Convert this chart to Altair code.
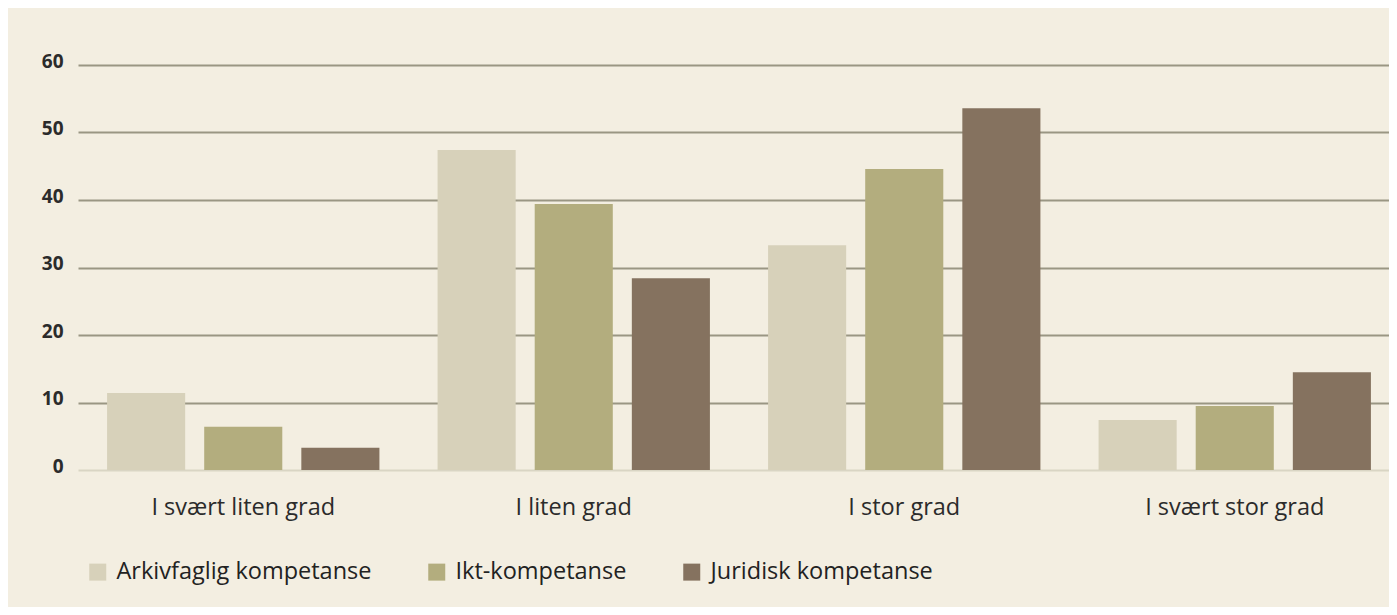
import altair as alt
import pandas as pd

categories = ["I svært liten grad", "I liten grad", "I stor grad", "I svært stor grad"]
series = ["Arkivfaglig kompetanse", "Ikt-kompetanse", "Juridisk kompetanse"]
arkiv = [11.4, 47.4, 33.3, 7.4]
ikt = [6.4, 39.4, 44.6, 9.5]
juridisk = [3.3, 28.4, 53.6, 14.5]
colors = ["#D7D1BA", "#B3AD7E", "#85725F"]
y_ticks = [0, 10, 20, 30, 40, 50, 60]

rows = []
for s, vals in zip(series, [arkiv, ikt, juridisk]):
    for c, v in zip(categories, vals):
        rows.append({"kategori": c, "serie": s, "verdi": v})
df = pd.DataFrame(rows)

FONT = "Open Sans"

chart = alt.Chart(df).mark_bar().encode(
    x=alt.X("kategori:N", sort=categories, title=None,
            scale=alt.Scale(paddingInner=0.176, paddingOuter=0.088, range=[0, 1322]),
            axis=alt.Axis(labelAngle=0, labelFontSize=23.5, labelColor="#2b2b2b",
                          labelPadding=25, domain=False, ticks=False, labelFont=FONT,
                          labelLimit=0)),
    xOffset=alt.XOffset("serie:N", sort=series,
                        scale=alt.Scale(paddingInner=0.196, paddingOuter=0)),
    y=alt.Y("verdi:Q", title=None, scale=alt.Scale(domain=[0, 60], nice=False),
            axis=alt.Axis(values=y_ticks, labelFontSize=19, labelFontWeight="bold",
                          labelColor="#2b2b2b", labelFont=FONT, labelPadding=15,
                          labelOffset=-4, domain=False, ticks=False,
                          gridColor=alt.condition("datum.value === 0", alt.value("#D9D5C4"), alt.value("#9A9683")),
                          gridWidth=2)),
    color=alt.Color("serie:N", sort=series,
                    scale=alt.Scale(domain=series, range=colors),
                    legend=alt.Legend(title=None, orient="none", legendX=8, legendY=495,
                                      direction="horizontal", symbolType="square",
                                      symbolSize=289, symbolStrokeWidth=0,
                                      labelFontSize=23.5, labelFont=FONT, labelColor="#222222",
                                      labelOffset=7, columnPadding=53, labelLimit=0)),
).properties(
    width=1311, height=405, background="#F3EEE1",
    padding={"left": 70, "top": 57, "right": 0, "bottom": 137},
    autosize=alt.AutoSizeParams(type="none"),
).configure_view(stroke=None)

chart.save("out.html", embed_options={"renderer": "svg", "actions": False})
